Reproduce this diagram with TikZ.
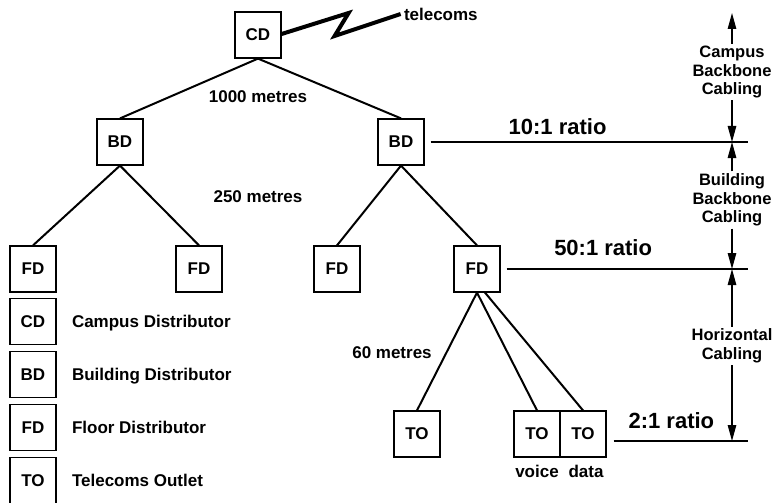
\documentclass[tikz,border=0pt]{standalone}
\usepackage{fontspec}
\setmainfont{Liberation Sans}
\usetikzlibrary{positioning,arrows.meta}

\begin{document}
\begin{tikzpicture}[x=1pt, y=1pt, thick,
    box/.style = {draw, line width=1.2pt, minimum size=46pt, inner sep=0pt, on grid,
                  font=\bfseries\fontsize{17}{17}\selectfont},
    txt/.style = {font=\bfseries\fontsize{17}{20}\selectfont, inner sep=1pt},
    big/.style = {font=\bfseries\fontsize{22}{22}\selectfont},
    dim/.style = {font=\bfseries\fontsize{16.5}{18.5}\selectfont, align=center, inner sep=2pt},
    wire/.style = {line width=2pt},
    ratioline/.style = {line width=1.1pt},
    dimarrow/.style = {line width=1.2pt, -{Triangle[length=16pt,width=8.5pt]}}]
    \useasboundingbox (0,0) rectangle (780,-503);

    % distributors and outlets
    \node[box] (cd)  at (258,-35)                          {CD};
    \node[box] (bd1) [below left=107pt and 138pt of cd]    {BD};
    \node[box] (bd2) [below right=107pt and 143pt of cd]   {BD};
    \node[box] (fd1) [below left=127pt and 87pt of bd1]    {FD};
    \node[box] (fd2) [below right=127pt and 79pt of bd1]   {FD};
    \node[box] (fd3) [below left=127pt and 64pt of bd2]    {FD};
    \node[box] (fd4) [below right=127pt and 76pt of bd2]   {FD};
    \node[box] (to1) [below left=165pt and 60pt of fd4]    {TO};
    \node[box] (tov) [below right=165pt and 60pt of fd4]   {TO};
    \node[box] (tod) [right=46pt of tov]                   {TO};

    \node[txt] [below=6pt of tov]             {voice};
    \node[txt] [below=6pt of tod, xshift=3pt] {data};

    % key
    \node[box] (keycd) [below=52.8pt of fd1]   {CD};
    \node[box] (keybd) [below=52.8pt of keycd] {BD};
    \node[box] (keyfd) [below=52.8pt of keybd] {FD};
    \node[box] (keyto) [below=52.8pt of keyfd] {TO};
    \node[txt, text depth=0pt] [right=14pt of keycd] {Campus Distributor};
    \node[txt, text depth=0pt] [right=14pt of keybd] {Building Distributor};
    \node[txt, text depth=0pt] [right=14pt of keyfd] {Floor Distributor};
    \node[txt, text depth=0pt] [right=14pt of keyto] {Telecoms Outlet};

    % cable lengths
    \node[txt, on grid] (len1) [below=62pt of cd]    {1000 metres};
    \node[txt, on grid] (len2) [below=100pt of len1] {250 metres};
    \node[txt, on grid] (len3) [below left=84pt and 85pt of fd4] {60 metres};

    % telecoms link
    \node[txt, anchor=west] (tel) at ([xshift=121pt,yshift=21pt]cd.east) {telecoms};
    \draw[line width=4pt] ([yshift=1pt]cd.east) -- ++(67,21) -- ++(-14,-23) -- ([xshift=-2pt]tel.west);

    \draw[wire] (cd.south) -- (bd1.north);
    \draw[wire] (cd.south) -- (bd2.north);

    \draw[wire] (bd1.south) -- (fd1.north);
    \draw[wire] (bd1.south) -- (fd2.north);
    \draw[wire] (bd2.south) -- (fd3.north);
    \draw[wire] (bd2.south) -- (fd4.north);

    \draw[wire] (fd4.south) -- (to1.north);
    \draw[wire] (fd4.south) -- (tov.north);
    \draw[wire] ([xshift=8pt]fd4.south) -- (tod.north);

    % ratios and cabling levels
    \coordinate (tip)   at (732,-13);
    \coordinate (lev10) at (732,-142);
    \coordinate (lev50) at (732,-269);
    \coordinate (lev2)  at (732,-441);
    \coordinate (end10) at (748,-142);
    \coordinate (end50) at (748,-269);
    \coordinate (end2)  at (748,-441);

    \draw[ratioline] ([xshift=6pt]bd2.east) -- node[big, above=3pt, pos=0.4]  {10:1 ratio} (end10);
    \draw[ratioline] ([xshift=6pt]fd4.east) -- node[big, above=9pt, pos=0.4]  {50:1 ratio} (end50);
    \draw[ratioline] ([shift={(7,-7)}]tod.east) -- node[big, above=8pt, pos=0.43] {2:1 ratio} (end2);

    \node[dim] (campus)   at (732,-72)  {Campus\\Backbone\\Cabling};
    \node[dim] (building) at (732,-200) {Building\\Backbone\\Cabling};
    \node[dim] (horiz)    at (732,-346) {Horizontal\\Cabling};

    \draw[dimarrow] (campus) -- (tip);
    \draw[dimarrow] (campus) -- (lev10);
    \draw[dimarrow] (building) -- (lev10);
    \draw[dimarrow] (building) -- (lev50);
    \draw[dimarrow] (horiz) -- (lev50);
    \draw[dimarrow] (horiz) -- (lev2);

\end{tikzpicture}
\end{document}
